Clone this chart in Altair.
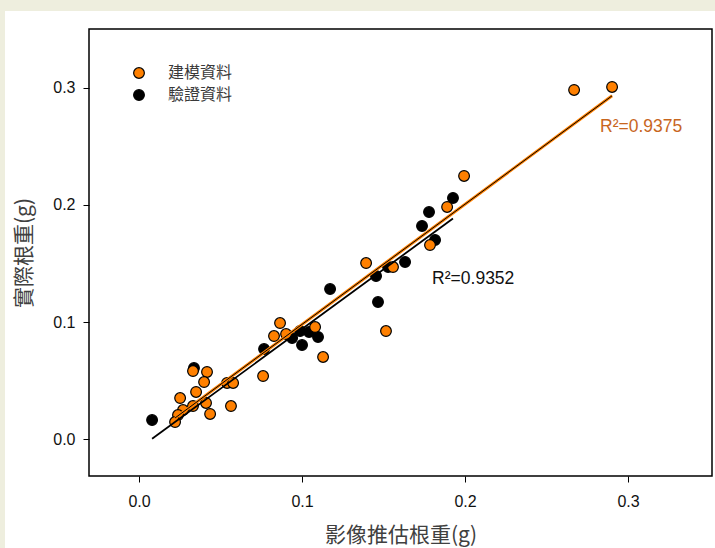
import altair as alt
import pandas as pd

# ---- data ----
series_names = ["建模資料", "驗證資料"]
series_colors = ["#FF8000", "#000000"]

model_x = [0.0331, 0.0417, 0.0399, 0.0350, 0.0252, 0.0540, 0.0577, 0.0331, 0.0411,
           0.0564, 0.0436, 0.0270, 0.0239, 0.0221, 0.0761, 0.0865, 0.0828, 0.0902,
           0.1080, 0.1129, 0.1393, 0.1558, 0.1515, 0.1785, 0.1890, 0.1994, 0.2669, 0.2902]
model_y = [0.0581, 0.0573, 0.0487, 0.0402, 0.0350, 0.0479, 0.0479, 0.0282, 0.0308,
           0.0282, 0.0214, 0.0248, 0.0205, 0.0145, 0.0538, 0.0991, 0.0880, 0.0897,
           0.0957, 0.0701, 0.1504, 0.1470, 0.0923, 0.1658, 0.1983, 0.2248, 0.2983, 0.3009]

valid_x = [0.0080, 0.0337, 0.0767, 0.0939, 0.0988, 0.1000, 0.1043, 0.1098, 0.1172,
           0.1454, 0.1466, 0.1528, 0.1632, 0.1736, 0.1779, 0.1816, 0.1926]
valid_y = [0.0162, 0.0607, 0.0769, 0.0863, 0.0923, 0.0803, 0.0915, 0.0872, 0.1282,
           0.1393, 0.1171, 0.1470, 0.1513, 0.1821, 0.1940, 0.1701, 0.2060]

fit_slope = [1.027, 1.020]
fit_intercept = [-0.0047, -0.0080]
r2_values = [0.9375, 0.9352]
r2_label_x = [0.2828, 0.1798]
r2_label_y = [0.2667, 0.1368]
r2_colors = ["#C8661E", "#111111"]

x_ticks = [0.0, 0.1, 0.2, 0.3]
y_ticks = [0.0, 0.1, 0.2, 0.3]
x_domain = [-0.0307, 0.3515]
y_domain = [-0.0316, 0.3504]
x_title = "影像推估根重(g)"
y_title = "實際根重(g)"

# ---- layout ----
PLOT_W, PLOT_H = 623, 447
PAD_L, PAD_T = 89, 29
CJK = "Noto Sans CJK TC"
LAT = "Liberation Sans"

# ---- tables ----
pts = pd.DataFrame(
    {"x": valid_x, "y": valid_y, "s": series_names[1]}
)
pts = pd.concat([pts, pd.DataFrame({"x": model_x, "y": model_y, "s": series_names[0]})],
                ignore_index=True)

line_rows = []
for i, (xs_, name) in enumerate([(model_x, series_names[0]), (valid_x, series_names[1])]):
    for xv in (min(xs_), max(xs_)):
        line_rows.append({"x": xv, "y": fit_slope[i] * xv + fit_intercept[i], "s": name})
lines = pd.DataFrame(line_rows)

labels = pd.DataFrame({
    "x": r2_label_x, "y": r2_label_y,
    "t": [f"R²={v:.4f}" for v in r2_values],
    "c": r2_colors,
})

xs = alt.Scale(domain=x_domain, nice=False, zero=False)
ys = alt.Scale(domain=y_domain, nice=False, zero=False)

x_axis = alt.Axis(values=x_ticks, format=".1f", title=x_title, grid=False, domain=False,
                  tickSize=6, tickColor="#000", tickWidth=1, labelFont=LAT, labelFontSize=16,
                  labelColor="#111", labelPadding=11, titleFont=CJK, titleFontSize=21,
                  titleFontWeight="normal", titleColor="#404040", titlePadding=15, zindex=1)
y_axis = alt.Axis(values=y_ticks, format=".1f", title=y_title, grid=False, domain=False,
                  tickSize=6, tickColor="#000", tickWidth=1, labelFont=LAT, labelFontSize=16,
                  labelColor="#111", labelPadding=8, titleFont=CJK, titleFontSize=21,
                  titleFontWeight="normal", titleColor="#404040", titlePadding=18, zindex=1)

panel = alt.Chart(pd.DataFrame({"a": [0]})).mark_rect(fill="white", stroke=None).encode(
    x=alt.value(5 - PAD_L), x2=alt.value(715 - PAD_L),
    y=alt.value(11 - PAD_T), y2=alt.value(548 - PAD_T),
)

points = alt.Chart(pts).mark_point(filled=True, shape="circle", size=115, stroke="#000",
                                   strokeWidth=1.2, opacity=1).encode(
    x=alt.X("x:Q", scale=xs, axis=x_axis),
    y=alt.Y("y:Q", scale=ys, axis=y_axis),
    fill=alt.Fill("s:N", scale=alt.Scale(domain=series_names, range=series_colors),
                  legend=alt.Legend(title=None, orient="none", legendX=42, legendY=36,
                                    symbolType="circle", symbolSize=115,
                                    symbolStrokeColor="#000", symbolStrokeWidth=1.2,
                                    labelFont=CJK, labelFontSize=16, labelColor="#3a3a3a",
                                    labelOffset=21, rowPadding=6, zindex=1)),
)

model_line_df = lines[lines.s == series_names[0]]
valid_line_df = lines[lines.s == series_names[1]]

model_line = alt.Chart(model_line_df).mark_line(color=series_colors[0], strokeWidth=3).encode(
    x=alt.X("x:Q", scale=xs), y=alt.Y("y:Q", scale=ys))
model_core = alt.Chart(model_line_df).mark_line(color="#000", strokeWidth=1).encode(
    x=alt.X("x:Q", scale=xs), y=alt.Y("y:Q", scale=ys))
valid_line = alt.Chart(valid_line_df).mark_line(color="#000", strokeWidth=1.8).encode(
    x=alt.X("x:Q", scale=xs), y=alt.Y("y:Q", scale=ys))

frame = alt.Chart(pd.DataFrame({"a": [0]})).mark_rect(filled=False, fill=None, stroke="#000",
                                                      strokeWidth=1.5).encode(
    x=alt.value(0), x2=alt.value(PLOT_W), y=alt.value(0), y2=alt.value(PLOT_H))

texts = alt.Chart(labels).mark_text(align="left", baseline="middle", font=LAT,
                                    fontSize=17.5).encode(
    x=alt.X("x:Q", scale=xs), y=alt.Y("y:Q", scale=ys),
    text="t:N", color=alt.Color("c:N", scale=None))

chart = alt.layer(panel, points, valid_line, model_line, model_core, frame, texts).properties(
    width=PLOT_W, height=PLOT_H,
    autosize=alt.AutoSizeParams(type="none"),
    padding={"left": PAD_L, "top": PAD_T, "right": 715 - PAD_L - PLOT_W,
             "bottom": 548 - PAD_T - PLOT_H},
    background="#EEEEDE",
).configure_view(stroke=None)

chart.save("out.html", embed_options={"renderer": "svg", "actions": False})
